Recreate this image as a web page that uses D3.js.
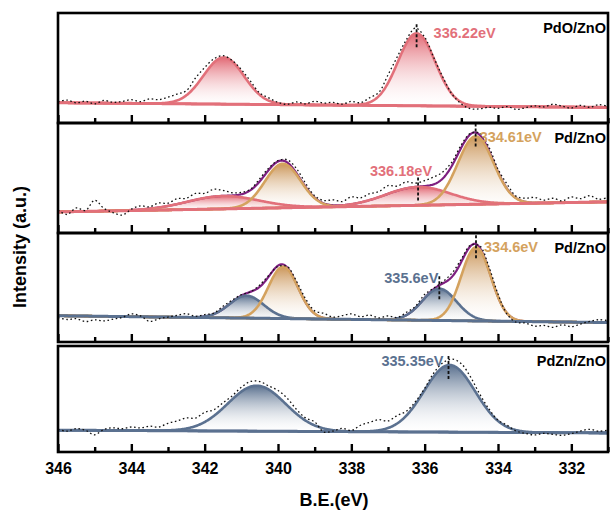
<!DOCTYPE html>
<html>
<head>
<meta charset="utf-8">
<script src="https://cdn.jsdelivr.net/npm/d3@7.9.0/dist/d3.min.js"></script>
<style>
  body { margin: 0; background: #fff; }
  svg { display: block; font-family: "Liberation Sans", Arial, sans-serif; font-weight: bold; }
</style>
</head>
<body>
<svg id="chart" width="610" height="514"></svg>
<script>
// sample names, top to bottom
const samples = ['PdO/ZnO', 'Pd/ZnO', 'Pd/ZnO', 'PdZn/ZnO'];

// linear background (intensity at 346 eV and at 331 eV)
const bgStart = [2.1, 3, 8.9, 4.7];
const bgEnd = [-3, 14, 1.4, 1.6];

// fitted Pd 3d components: center (eV), height, fwhm (eV), chemical state
const peaksPdO = [
  { center: 341.48, height: 51, fwhm: 1.3, state: 'ox' },
  { center: 336.22, height: 79, fwhm: 1.2, state: 'ox' },
];
const peaksPd1 = [
  { center: 341.5, height: 14, fwhm: 2.3, state: 'ox' },
  { center: 336.18, height: 20, fwhm: 2.1, state: 'ox' },
  { center: 339.87, height: 48, fwhm: 1.15, state: 'met' },
  { center: 334.61, height: 74, fwhm: 1.15, state: 'met' },
];
const peaksPd2 = [
  { center: 340.86, height: 24.7, fwhm: 1.1, state: 'alloy' },
  { center: 335.6, height: 35, fwhm: 1.1, state: 'alloy' },
  { center: 339.86, height: 57, fwhm: 0.95, state: 'met' },
  { center: 334.6, height: 81, fwhm: 0.95, state: 'met' },
];
const peaksPdZn = [
  { center: 340.58, height: 51.5, fwhm: 1.85, state: 'alloy' },
  { center: 335.32, height: 76, fwhm: 1.65, state: 'alloy' },
];

const residPdO = [1, 3, 0, 2, -1, 3, 1, 2, 4, 2,
  5, 4, 6, 7, 5, 9, 7, 4, 2, 1,
  3, 4, 2, 3, 1, 0, 3, 1, 4, 2,
  3, 1, 4, 2, 5, 4, 9, 7, 4, 6,
  3, 1, 2, 0, -2, -4, -3, -1, -2, 0,
  -3, -1, 1, 0, 3, 1, -1, 2, 0, 3,
  1];
const residPd1 = [2, -3, 4, 1, 12, 3, -2, -5, 1, 4,
  2, 5, 3, 6, 4, 7, 5, 8, 6, 3,
  2, 1, 3, 2, 1, 3, 5, 4, 2, 3,
  6, 4, 8, 5, 7, 6, 9, 5, 7, 4,
  6, 8, 7, 4, 3, 1, 2, 4, 3, 5,
  2, 4, 6, 3, 5, 2, 6, 4, 7, 3,
  5];
const residPd2 = [-2, -4, -3, -6, -4, -5, -3, -1, 3, 1,
  -5, -2, 0, 2, 4, 1, 2, 1, 3, 2,
  1, 0, 2, 1, -1, 1, 3, 4, 3, 5,
  2, 4, 6, 3, 5, 2, 4, 1, 3, 2,
  4, 1, 2, 4, 3, 1, 2, 4, 3, -1,
  -3, -2, -5, -4, -6, -3, -5, -2, 1, 3,
  2];
const residPdZn = [1, -1, 2, 0, -5, 1, 3, 2, 4, 3,
  5, 4, 8, 10, 12, 9, 11, 7, 6, 4,
  5, 6, 5, 4, 7, 8, 5, 3, 4, -4,
  -1, 3, 1, 7, 10, 12, 8, 9, 5, 3,
  2, 4, 5, 7, 9, 8, 5, 3, 1, 2,
  -1, -2, -3, -1, -2, -3, -1, 2, 4, 2,
  3];

// peak position labels
const labelsPdO = [{ energy: 336.22, text: '336.22eV', state: 'ox', side: 'right' }];
const labelsPd1 = [
  { energy: 334.61, text: '334.61eV', state: 'met', side: 'right' },
  { energy: 336.18, text: '336.18eV', state: 'ox', side: 'left' },
];
const labelsPd2 = [
  { energy: 334.6, text: '334.6eV', state: 'met', side: 'right' },
  { energy: 335.6, text: '335.6eV', state: 'alloy', side: 'left' },
];
const labelsPdZn = [{ energy: 335.35, text: '335.35eV', state: 'alloy', side: 'left' }];

const majorTicks = [346, 344, 342, 340, 338, 336, 334, 332];
const minorTicks = [345, 343, 341, 339, 337, 335, 333, 331];

const allPeaks = [peaksPdO, peaksPd1, peaksPd2, peaksPdZn];
const allResid = [residPdO, residPd1, residPd2, residPdZn];
const allLabels = [labelsPdO, labelsPd1, labelsPd2, labelsPdZn];
const bgColor = ['ox', 'ox', 'alloy', 'alloy'];

const energies = allResid[0].map((d, i) => 346 - i * 0.25);
const fine = d3.range(331, 346.0001, 0.02);

const colors = d3.scaleOrdinal()
  .domain(['ox', 'met', 'alloy'])
  .range(['#e2707a', '#d4a25e', '#5b7190']);
const fillTop = { ox: '#e0606c', met: '#c89050', alloy: '#506888' };
const envColor = '#7e1f80';

// layout
const panelTop = [13, 123, 233, 346];
const panelBottom = [123, 233, 342, 452];
const labelShift = [
  [{ dx: 17, dy: 0 }],
  [{ dx: 4, dy: 4 }, { dx: 14, dy: -16 }],
  [{ dx: 8, dy: 3 }, { dx: -1, dy: -7 }],
  [{ dx: -5, dy: -4 }],
];
const x = d3.scaleLinear().domain([346, 331]).range([58, 608]);

const svg = d3.select('#chart');
const defs = svg.append('defs');

Object.keys(fillTop).forEach((k) => {
  let g = defs.append('linearGradient').attr('id', 'grad-' + k)
    .attr('x1', 0).attr('y1', 0).attr('x2', 0).attr('y2', 1);
  g.append('stop').attr('offset', '0%').attr('stop-color', fillTop[k]).attr('stop-opacity', 0.95);
  g.append('stop').attr('offset', '100%').attr('stop-color', '#ffffff').attr('stop-opacity', 0.1);
});

const gauss = (p, e) => p.height * Math.exp(-4 * Math.LN2 * (e - p.center) ** 2 / (p.fwhm * p.fwhm));

samples.forEach((name, idx) => {
  let top = panelTop[idx], bottom = panelBottom[idx];
  let y = d3.scaleLinear().domain([-20, 100]).range([bottom, top]);
  let peaks = allPeaks[idx];
  let bg = (e) => bgStart[idx] + (bgEnd[idx] - bgStart[idx]) * (346 - e) / 15;
  let env = (e) => bg(e) + d3.sum(peaks, (p) => gauss(p, e));

  defs.append('clipPath').attr('id', 'clip' + idx)
    .append('rect').attr('x', x(346)).attr('y', top).attr('width', x(331) - x(346)).attr('height', bottom - top);

  let g = svg.append('g').attr('clip-path', `url(#clip${idx})`);

  // component fills
  peaks.forEach((p) => {
    let area = d3.area().x((e) => x(e)).y0((e) => y(bg(e))).y1((e) => y(bg(e) + gauss(p, e)));
    g.append('path').attr('d', area(fine)).attr('fill', `url(#grad-${p.state})`);
  });

  // envelope when more than one chemical state
  let states = new Set(peaks.map((p) => p.state));
  if (states.size > 1) {
    let envLine = d3.line().x((e) => x(e)).y((e) => y(env(e)));
    g.append('path').attr('d', envLine(fine)).attr('fill', 'none')
      .attr('stroke', envColor).attr('stroke-width', 2.2);
  }

  // component outlines
  peaks.forEach((p) => {
    let line = d3.line().x((e) => x(e)).y((e) => y(bg(e) + gauss(p, e)));
    g.append('path').attr('d', line(fine)).attr('fill', 'none')
      .attr('stroke', colors(p.state)).attr('stroke-width', 2.6);
  });

  // background
  g.append('path').attr('d', d3.line().x((e) => x(e)).y((e) => y(bg(e)))(fine))
    .attr('fill', 'none').attr('stroke', colors(bgColor[idx])).attr('stroke-width', 3);

  // measured data
  let resid = allResid[idx];
  let dataLine = d3.line().x((e) => x(e)).y((e, i) => y(env(e) + resid[i])).curve(d3.curveCatmullRom);
  g.append('path').attr('d', dataLine(energies)).attr('fill', 'none')
    .attr('stroke', '#111').attr('stroke-width', 1.3).attr('stroke-dasharray', '1.6,2.6');

  // peak markers and labels
  allLabels[idx].forEach((l, j) => {
    let yt = y(env(l.energy));
    let s = labelShift[idx][j];
    svg.append('line').attr('x1', x(l.energy)).attr('x2', x(l.energy))
      .attr('y1', yt - 9).attr('y2', yt + 14)
      .attr('stroke', '#111').attr('stroke-width', 1.8).attr('stroke-dasharray', '3,2');
    svg.append('text')
      .attr('x', x(l.energy) + s.dx)
      .attr('y', yt + s.dy)
      .attr('dy', '0.35em')
      .attr('text-anchor', l.side === 'right' ? 'start' : 'end')
      .attr('font-size', 14.5)
      .attr('fill', colors(l.state))
      .text(l.text);
  });

  svg.append('text').attr('x', 606).attr('y', top + 15).attr('dy', '0.35em')
    .attr('text-anchor', 'end').attr('font-size', 14.5).attr('fill', '#000').text(name);

  // ticks pointing inward
  let major = svg.append('g').attr('transform', `translate(0,${bottom})`)
    .call(d3.axisBottom(x).tickValues(majorTicks).tickSize(-8).tickPadding(11)
      .tickFormat(idx === 3 ? d3.format('d') : ''));
  let minor = svg.append('g').attr('transform', `translate(0,${bottom})`)
    .call(d3.axisBottom(x).tickValues(minorTicks).tickSize(-5).tickFormat(''));
  [major, minor].forEach((a) => {
    a.select('.domain').remove();
    a.selectAll('line').attr('stroke', '#000').attr('stroke-width', 2.4);
    a.selectAll('text').attr('font-size', 16).attr('font-weight', 'bold')
      .attr('font-family', '"Liberation Sans", Arial, sans-serif').attr('fill', '#000');
  });

  svg.append('rect').attr('x', x(346)).attr('y', top)
    .attr('width', x(331) - x(346)).attr('height', bottom - top)
    .attr('fill', 'none').attr('stroke', '#000').attr('stroke-width', 2.6);
});

svg.append('text').attr('x', 334).attr('y', 506).attr('text-anchor', 'middle')
  .attr('font-size', 18).text('B.E.(eV)');

svg.append('text').attr('transform', 'translate(26,247) rotate(-90)')
  .attr('text-anchor', 'middle').attr('font-size', 18).text('Intensity (a.u.)');
</script>
</body>
</html>
